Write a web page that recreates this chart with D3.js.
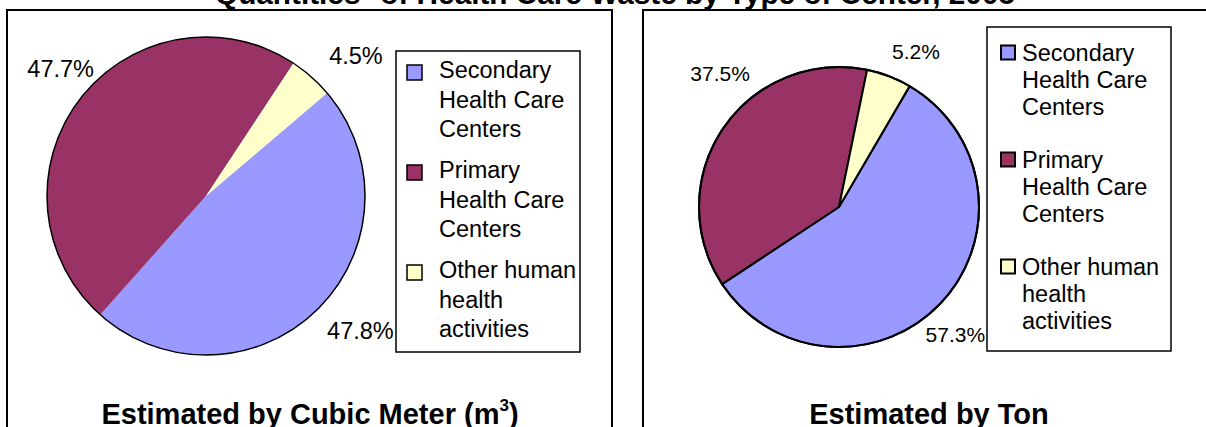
<!DOCTYPE html>
<html>
<head>
<meta charset="utf-8">
<script src="https://cdn.jsdelivr.net/npm/d3@7"></script>
<style>
  body { margin: 0; background: #fff; }
  svg { display: block; font-family: "Liberation Sans", Arial, sans-serif; }
</style>
</head>
<body>
<div id="chart"></div>
<script>
var chartTitle = 'Quantities* of Health Care Waste by Type of Center, 2005';
var categories = ['Secondary Health Care Centers', 'Primary Health Care Centers', 'Other human health activities'];
var colors = ['#9999ff', '#993366', '#ffffcc'];
var cubicMeterShares = [47.8, 47.7, 4.5];
var tonShares = [57.3, 37.5, 5.2];

var width = 1206;
var height = 427;
var legendFont = 23.5;

// one entry per pie panel, layout
var panels = [
  {
    values: cubicMeterShares,
    title: ['Estimated by Cubic Meter (m', '3', ')'],
    titleX: 310,
    frame: {x: 7, y: 10, w: 605, h: 440},
    cx: 206, cy: 196, r: 159, startDeg: 49.6,
    sliceStroke: 0, rimStroke: 1.5,
    labelSize: 23.5, labelR: [205, 193, 205], labelNudge: [-4.5, 3.6, 5.5],
    legend: {x: 396, y: 51, w: 184, h: 301, swatchX: 407, swatchSize: 15, swatchStroke: 1.5,
             textX: 439, wrap: 142, firstBaseline: 78, itemStep: 100, lineHeight: 29.5, swatchOffset: -13}
  },
  {
    values: tonShares,
    title: ['Estimated by Ton'],
    titleX: 929,
    frame: {x: 643, y: 10, w: 572, h: 440},
    cx: 839, cy: 207, r: 140, startDeg: 30.3,
    sliceStroke: 2, rimStroke: 2,
    labelSize: 21, labelR: [173, 179, 173], labelNudge: [4.3, 14.3, 5.5],
    legend: {x: 987, y: 27, w: 184, h: 324, swatchX: 1001, swatchSize: 14, swatchStroke: 2,
             textX: 1022, wrap: 146, firstBaseline: 61, itemStep: 107, lineHeight: 27, swatchOffset: -15.5}
  }
];

var svg = d3.select('#chart').append('svg')
    .attr('width', width)
    .attr('height', height);

// top title, mostly cut off by the page edge
svg.append('text')
    .attr('x', width / 2 + 12)
    .attr('y', 4)
    .attr('text-anchor', 'middle')
    .attr('font-size', 29)
    .attr('font-weight', 'bold')
    .attr('textLength', 800)
    .attr('lengthAdjust', 'spacingAndGlyphs')
    .text(chartTitle);

function wrapLines(text, maxWidth, fontSize) {
  var probe = svg.append('text').attr('font-size', fontSize);
  var words = text.split(' ');
  var lines = [];
  var line = words[0];
  for (var i = 1; i < words.length; i++) {
    probe.text(line + ' ' + words[i]);
    if (probe.node().getComputedTextLength() > maxWidth) {
      lines.push(line);
      line = words[i];
    } else {
      line = line + ' ' + words[i];
    }
  }
  lines.push(line);
  probe.remove();
  return lines;
}

var pctFormat = d3.format('.1f');
var deg = Math.PI / 180;

panels.forEach(function(p) {
  var g = svg.append('g').attr('class', 'panel');

  g.append('rect')
      .attr('x', p.frame.x)
      .attr('y', p.frame.y)
      .attr('width', p.frame.w)
      .attr('height', p.frame.h)
      .attr('fill', 'none')
      .attr('stroke', '#000')
      .attr('stroke-width', 2);

  var pie = d3.pie()
      .sort(null)
      .value(function(d) { return d; })
      .startAngle(p.startDeg * deg)
      .endAngle(p.startDeg * deg + 2 * Math.PI);

  var arc = d3.arc()
      .innerRadius(0)
      .outerRadius(p.r);

  var arcs = pie(p.values);

  var pieG = g.append('g')
      .attr('transform', 'translate(' + p.cx + ',' + p.cy + ')');

  pieG.selectAll('.slice')
      .data(arcs)
    .enter().append('path')
      .attr('class', 'slice')
      .attr('d', arc)
      .attr('fill', function(d, i) { return colors[i]; })
      .attr('stroke', p.sliceStroke ? '#000' : 'none')
      .attr('stroke-width', p.sliceStroke)
      .attr('stroke-linejoin', 'round');

  pieG.append('circle')
      .attr('r', p.r)
      .attr('fill', 'none')
      .attr('stroke', '#000')
      .attr('stroke-width', p.rimStroke);

  // percentage labels outside the rim
  pieG.selectAll('.pct')
      .data(arcs)
    .enter().append('text')
      .attr('class', 'pct')
      .attr('transform', function(d, i) {
        var a = (d.startAngle + d.endAngle) / 2 + p.labelNudge[i] * deg;
        var labelArc = d3.arc().innerRadius(p.labelR[i]).outerRadius(p.labelR[i]);
        var c = labelArc.centroid({startAngle: a, endAngle: a});
        return 'translate(' + c[0] + ',' + c[1] + ')';
      })
      .attr('text-anchor', 'middle')
      .attr('dy', '0.35em')
      .attr('font-size', p.labelSize)
      .attr('fill', '#000')
      .text(function(d) { return pctFormat(d.data) + '%'; });

  // legend
  var lg = p.legend;
  var legend = g.append('g').attr('class', 'legend');

  legend.append('rect')
      .attr('x', lg.x)
      .attr('y', lg.y)
      .attr('width', lg.w)
      .attr('height', lg.h)
      .attr('fill', '#fff')
      .attr('stroke', '#000')
      .attr('stroke-width', 1.5);

  categories.forEach(function(name, i) {
    var base = lg.firstBaseline + i * lg.itemStep;

    legend.append('rect')
        .attr('x', lg.swatchX)
        .attr('y', base + lg.swatchOffset)
        .attr('width', lg.swatchSize)
        .attr('height', lg.swatchSize)
        .attr('fill', colors[i])
        .attr('stroke', '#000')
        .attr('stroke-width', lg.swatchStroke);

    var label = legend.append('text')
        .attr('font-size', legendFont)
        .attr('fill', '#000');

    label.selectAll('tspan')
        .data(wrapLines(name, lg.wrap, legendFont))
      .enter().append('tspan')
        .attr('x', lg.textX)
        .attr('y', function(d, j) { return base + j * lg.lineHeight; })
        .text(function(d) { return d; });
  });

  // panel caption at the bottom
  var caption = g.append('text')
      .attr('x', p.titleX)
      .attr('y', 424)
      .attr('text-anchor', 'middle')
      .attr('font-size', 29)
      .attr('font-weight', 'bold');

  caption.append('tspan').text(p.title[0]);
  if (p.title.length > 1) {
    caption.append('tspan')
        .attr('font-size', 17)
        .attr('dy', -13)
        .text(p.title[1]);
    caption.append('tspan')
        .attr('dy', 13)
        .text(p.title[2]);
  }
});
</script>
</body>
</html>
